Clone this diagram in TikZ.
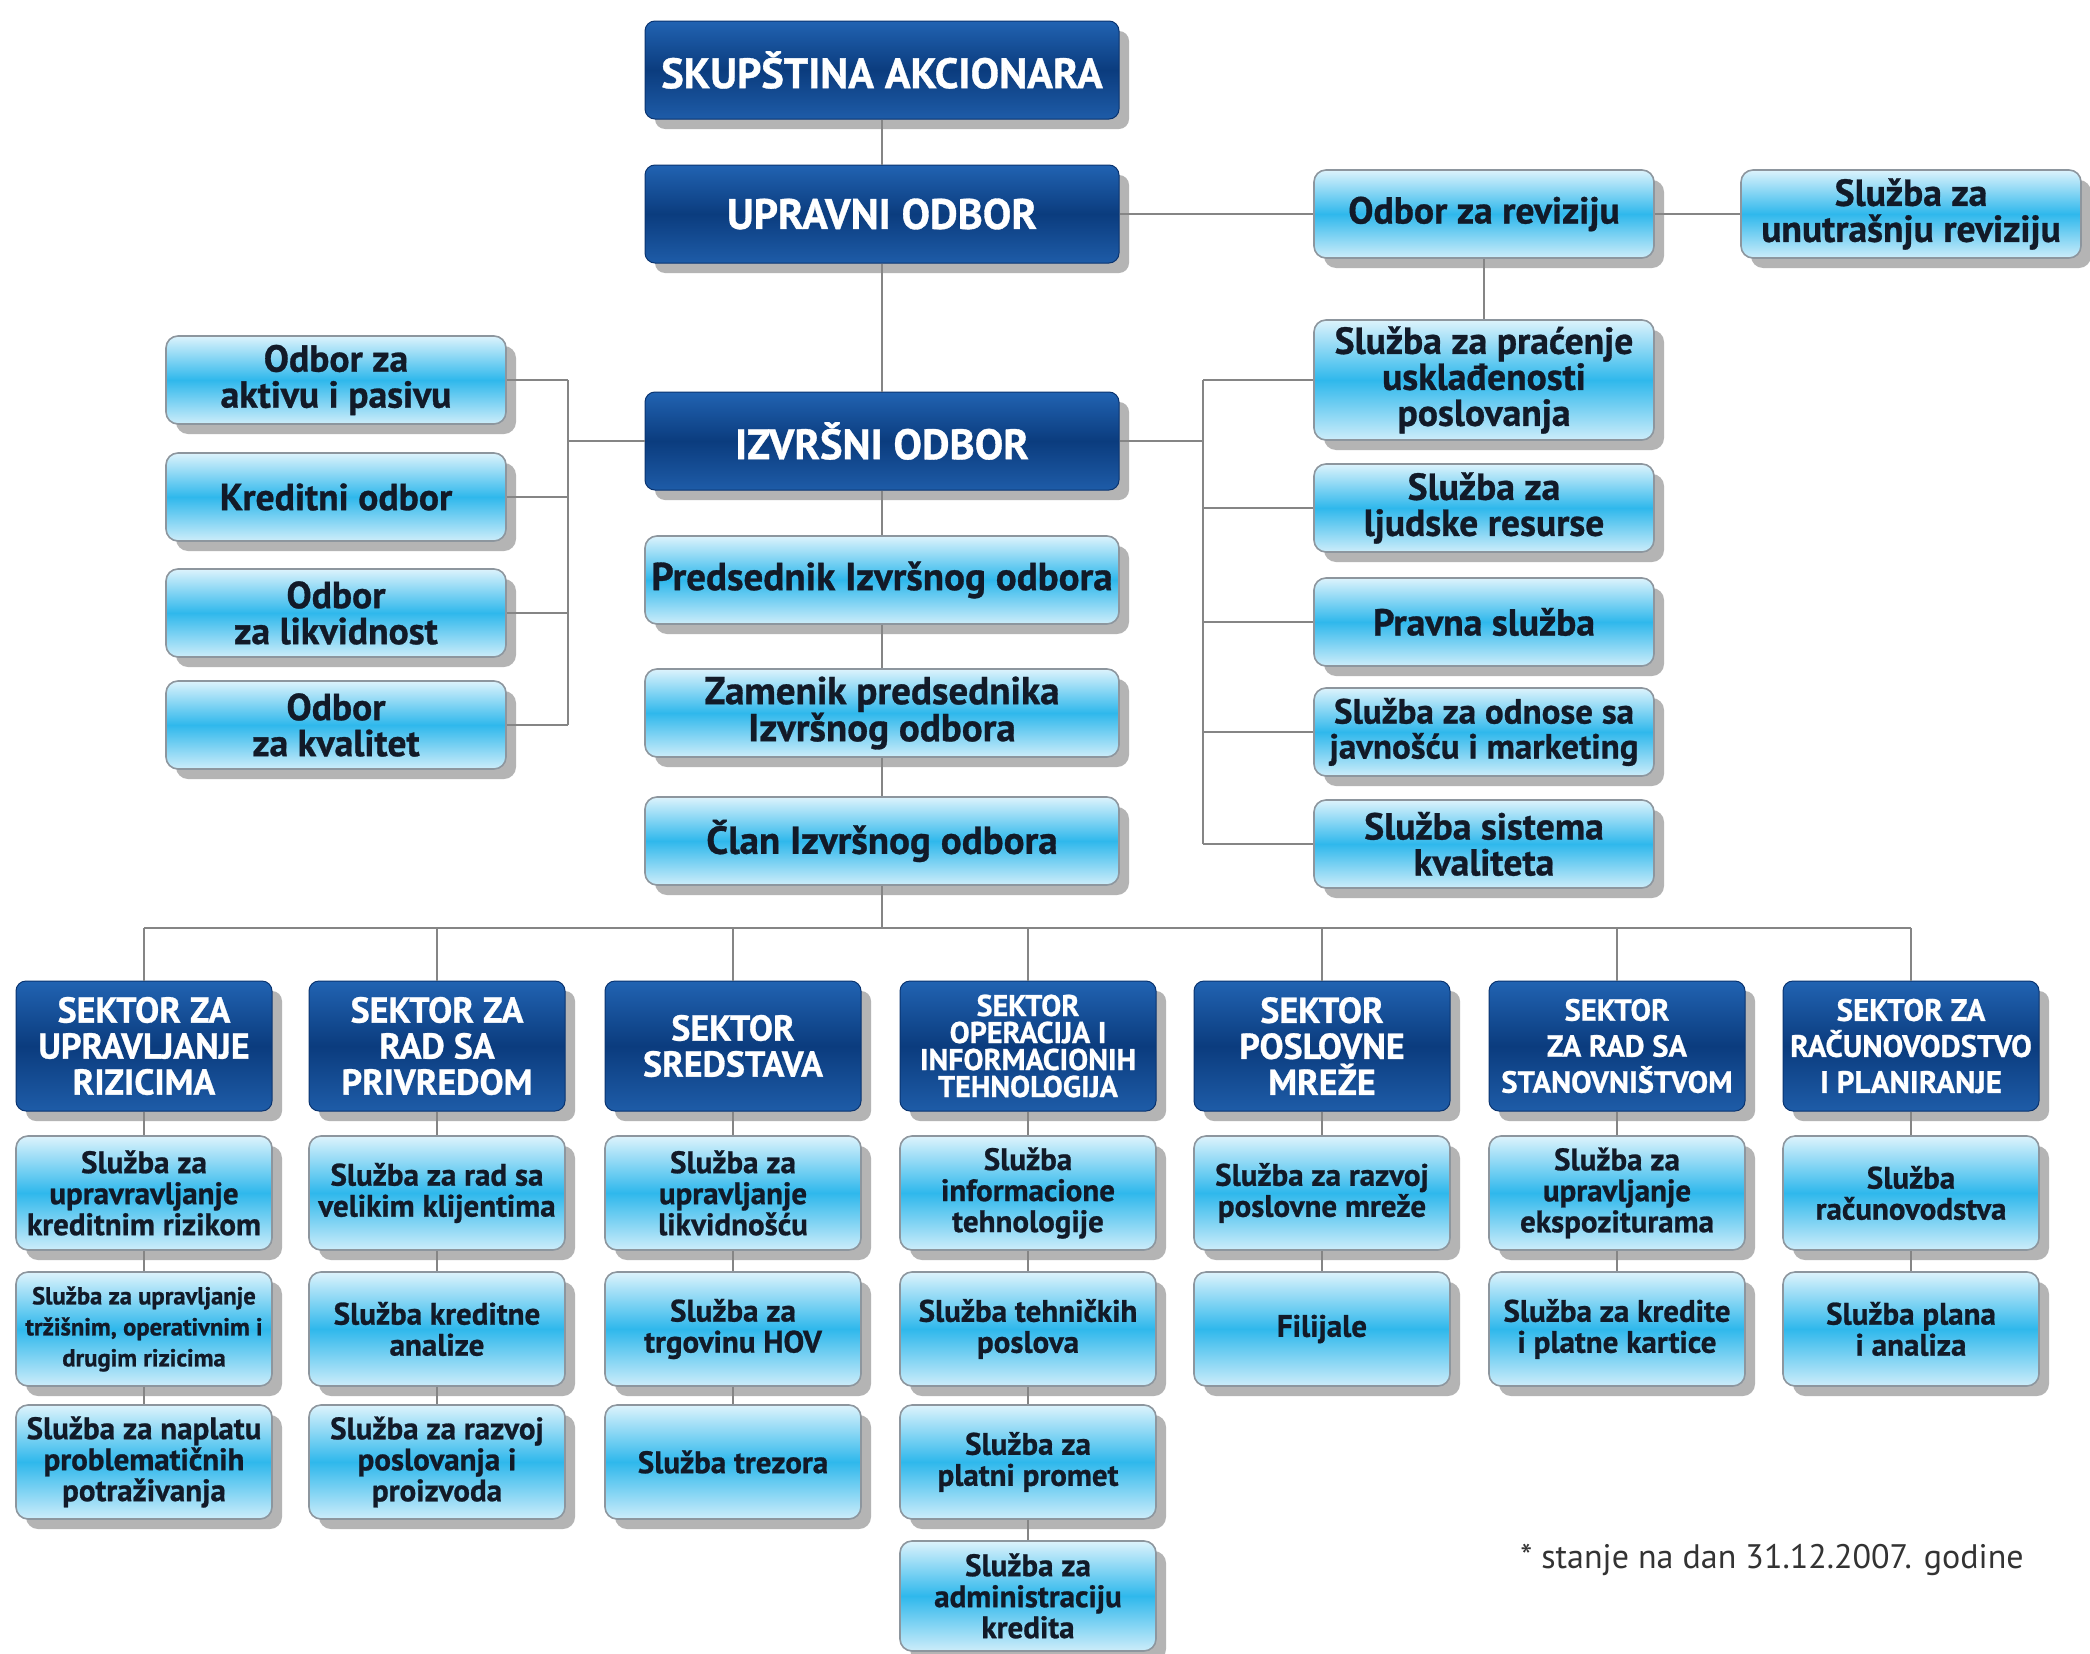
\documentclass[tikz,border=0pt]{standalone}
\usepackage{fontspec}
\setmainfont{PT Sans}[BoldFeatures={FakeBold=0.8}]
\usetikzlibrary{shadows}
\definecolor{dkTop}{HTML}{2163B2}
\definecolor{dkMid}{HTML}{0B3C7E}
\definecolor{dkBot}{HTML}{1E5CA8}
\definecolor{dkEdge}{HTML}{0A3470}
\definecolor{ltTop}{HTML}{DDF3FC}
\definecolor{ltMid}{HTML}{2FB8EC}
\definecolor{ltBot}{HTML}{CDEDFA}
\definecolor{ltEdge}{HTML}{8D969E}
\definecolor{ltText}{HTML}{121A28}
\definecolor{connC}{HTML}{858585}
\definecolor{shadowC}{HTML}{B4B4B4}
\begin{document}
\begin{tikzpicture}[x=0.5pt,y=-0.5pt,
  shadowed/.style={drop shadow={shadow xshift=5pt,shadow yshift=-5pt,fill=shadowC,opacity=1}},
  darkbox/.style={shadowed,rounded corners=5pt,draw=dkEdge,line width=0.5pt,
     top color=dkTop,bottom color=dkBot,middle color=dkMid,text=white,
     align=center,inner sep=1pt,font=\bfseries\fontsize{18}{18}\selectfont},
  lightbox/.style={shadowed,rounded corners=6pt,draw=ltEdge,line width=0.8pt,
     top color=ltTop,bottom color=ltBot,middle color=ltMid,text=ltText,
     align=center,inner sep=1pt,font=\bfseries\fontsize{18.8}{18}\selectfont},
  topbox/.style={darkbox,minimum width=237pt,minimum height=49pt,font=\bfseries\fontsize{21.3}{22}\selectfont},
  midbox/.style={lightbox,minimum width=237pt,minimum height=44pt,font=\bfseries\fontsize{19.5}{18.5}\selectfont},
  sidebox/.style={lightbox,minimum width=170pt,minimum height=44pt},
  secbox/.style={darkbox,minimum width=128pt,minimum height=65pt},
  subbox/.style={lightbox,minimum width=128pt,minimum height=57pt,font=\bfseries\fontsize{15.5}{15.5}\selectfont},
  conn/.style={draw=connC,line width=1.1pt}
]
\useasboundingbox (0,0) rectangle (2090,1654);
\fill[white] (0,0) rectangle (2090,1654);

% top chain
\node[topbox] (skup) at (882,70) {SKUPŠTINA AKCIONARA};
\node[topbox] (upr) at (882,214) {UPRAVNI ODBOR};
\node[topbox] (izv) at (882,441) {IZVRŠNI ODBOR};
\node[midbox] (pred) at (882,580) {Predsednik Izvršnog odbora};
\node[midbox] (zam) at (882,713) {Zamenik predsednika\\Izvršnog odbora};
\node[midbox] (clan) at (882,841) {Član Izvršnog odbora};

% audit
\node[sidebox] (rev) at (1484,214) {Odbor za reviziju};
\node[sidebox] (unut) at (1911,214) {Služba za\\unutrašnju reviziju};

% left committees
\node[sidebox] (l1) at (336,380) {Odbor za\\aktivu i pasivu};
\node[sidebox] (l2) at (336,497) {Kreditni odbor};
\node[sidebox] (l3) at (336,613) {Odbor\\za likvidnost};
\node[sidebox] (l4) at (336,725) {Odbor\\za kvalitet};

% right services
\node[sidebox,minimum height=60pt] (r1) at (1484,380) {Služba za praćenje\\usklađenosti\\poslovanja};
\node[sidebox] (r2) at (1484,508) {Služba za\\ljudske resurse};
\node[sidebox] (r3) at (1484,622) {Pravna služba};
\node[sidebox,font=\bfseries\fontsize{17.5}{17.5}\selectfont] (r4) at (1484,732) {Služba za odnose sa\\javnošću i marketing};
\node[sidebox] (r5) at (1484,844) {Služba sistema\\kvaliteta};

% sectors
\node[secbox] (s1) at (144,1046) {SEKTOR ZA\\UPRAVLJANJE\\RIZICIMA};
\node[secbox] (s2) at (437,1046) {SEKTOR ZA\\RAD SA\\PRIVREDOM};
\node[secbox] (s3) at (733,1046) {SEKTOR\\SREDSTAVA};
\node[secbox,font=\bfseries\fontsize{15}{13.5}\selectfont] (s4) at (1028,1046) {SEKTOR\\OPERACIJA I\\INFORMACIONIH\\TEHNOLOGIJA};
\node[secbox] (s5) at (1322,1046) {SEKTOR\\POSLOVNE\\MREŽE};
\node[secbox,font=\bfseries\fontsize{15.3}{18}\selectfont] (s6) at (1617,1046) {SEKTOR\\ZA RAD SA\\STANOVNIŠTVOM};
\node[secbox,font=\bfseries\fontsize{15.5}{18}\selectfont] (s7) at (1911,1046) {SEKTOR ZA\\RAČUNOVODSTVO\\I PLANIRANJE};

% sub services
\node[subbox] (a1) at (144,1193) {Služba za\\upravravljanje\\kreditnim rizikom};
\node[subbox,font=\bfseries\fontsize{12.3}{15.5}\selectfont] (b1) at (144,1329) {Služba za upravljanje\\tržišnim, operativnim i\\drugim rizicima};
\node[subbox] (c1) at (144,1462) {Služba za naplatu\\problematičnih\\potraživanja};

\node[subbox] (a2) at (437,1193) {Služba za rad sa\\velikim klijentima};
\node[subbox] (b2) at (437,1329) {Služba kreditne\\analize};
\node[subbox] (c2) at (437,1462) {Služba za razvoj\\poslovanja i\\proizvoda};

\node[subbox] (a3) at (733,1193) {Služba za\\upravljanje\\likvidnošću};
\node[subbox] (b3) at (733,1329) {Služba za\\trgovinu HOV};
\node[subbox] (c3) at (733,1462) {Služba trezora};

\node[subbox] (a4) at (1028,1193) {Služba\\informacione\\tehnologije};
\node[subbox] (b4) at (1028,1329) {Služba tehničkih\\poslova};
\node[subbox] (c4) at (1028,1462) {Služba za\\platni promet};
\node[subbox,minimum height=55pt] (d4) at (1028,1596) {Služba za\\administraciju\\kredita};

\node[subbox] (a5) at (1322,1193) {Služba za razvoj\\poslovne mreže};
\node[subbox] (b5) at (1322,1329) {Filijale};

\node[subbox] (a6) at (1617,1193) {Služba za\\upravljanje\\ekspoziturama};
\node[subbox] (b6) at (1617,1329) {Služba za kredite\\i platne kartice};

\node[subbox] (a7) at (1911,1193) {Služba\\računovodstva};
\node[subbox] (b7) at (1911,1329) {Služba plana\\i analiza};

% footnote
\node[text=black!80,font=\fontsize{17}{19}\selectfont] (note) at (1772,1560) {* stanje na dan 31.12.2007. godine};

% connectors: top chain
\draw[conn] (skup.south) -- (upr.north);
\draw[conn] (upr.south) -- (izv.north);
\draw[conn] (izv.south) -- (pred.north);
\draw[conn] (pred.south) -- (zam.north);
\draw[conn] (zam.south) -- (clan.north);
\draw[conn] (upr.east) -- (rev.west);
\draw[conn] (rev.east) -- (unut.west);
\draw[conn] (rev.south) -- (r1.north);

% left bus
\coordinate (lb) at (568,441);
\draw[conn] (izv.west) -- (lb);
\draw[conn] (l1.east -| lb) -- (l4.east -| lb);
\foreach \n in {l1,l2,l3,l4} \draw[conn] (\n.east) -- (\n.east -| lb);

% right bus
\coordinate (rb) at (1203,441);
\draw[conn] (izv.east) -- (rb);
\draw[conn] (r1.west -| rb) -- (r5.west -| rb);
\foreach \n in {r1,r2,r3,r4,r5} \draw[conn] (\n.west) -- (\n.west -| rb);

% sector bus
\coordinate (sb) at (882,928);
\draw[conn] (clan.south) -- (sb);
\draw[conn] (s1.north |- sb) -- (s7.north |- sb);
\foreach \n in {s1,s2,s3,s4,s5,s6,s7} \draw[conn] (\n.north |- sb) -- (\n.north);

% sector chains
\foreach \s/\t in {s1/a1,a1/b1,b1/c1,s2/a2,a2/b2,b2/c2,s3/a3,a3/b3,b3/c3,s4/a4,a4/b4,b4/c4,c4/d4,s5/a5,a5/b5,s6/a6,a6/b6,s7/a7,a7/b7}
  \draw[conn] (\s.south) -- (\t.north);
\end{tikzpicture}
\end{document}
